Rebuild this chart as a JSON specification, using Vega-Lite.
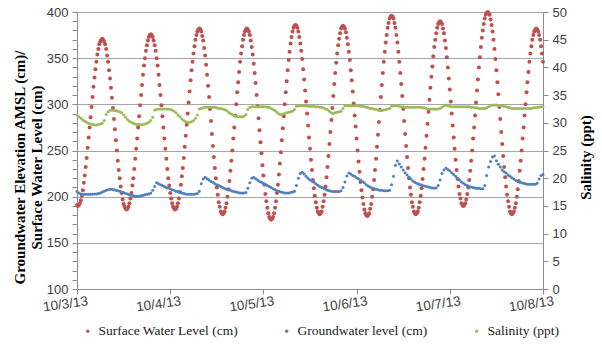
{
"$schema":"https://vega.github.io/schema/vega-lite/v6.json",
"width":466,"height":277,
"autosize":"none",
"padding":{"left":77,"top":12,"right":59,"bottom":57},
"background":"white",
"config":{"view":{"stroke":null},"axis":{"labelFont":"Liberation Sans","labelFontSize":13,"labelColor":"#404040","domainColor":"#8c8c8c","tickColor":"#8c8c8c","titleFont":"Liberation Serif","titleFontWeight":"bold","titleFontSize":15,"titleColor":"#000000"}},
"datasets":{
"sw":[{"t":0,"v":191},{"t":0.25,"v":190},{"t":0.5,"v":191},{"t":0.75,"v":193},{"t":1,"v":196},{"t":1.25,"v":201},{"t":1.5,"v":207},{"t":1.75,"v":215},{"t":2,"v":223},{"t":2.25,"v":232},{"t":2.5,"v":242},{"t":2.75,"v":253},{"t":3,"v":264},{"t":3.25,"v":275},{"t":3.5,"v":286},{"t":3.75,"v":297},{"t":4,"v":308},{"t":4.25,"v":319},{"t":4.5,"v":329},{"t":4.75,"v":338},{"t":5,"v":346},{"t":5.25,"v":354},{"t":5.5,"v":360},{"t":5.75,"v":365},{"t":6,"v":368},{"t":6.25,"v":370},{"t":6.5,"v":371},{"t":6.75,"v":370},{"t":7,"v":368},{"t":7.25,"v":365},{"t":7.5,"v":360},{"t":7.75,"v":353},{"t":8,"v":346},{"t":8.25,"v":337},{"t":8.5,"v":328},{"t":8.75,"v":318},{"t":9,"v":307},{"t":9.25,"v":296},{"t":9.5,"v":284},{"t":9.75,"v":273},{"t":10,"v":261},{"t":10.25,"v":250},{"t":10.5,"v":239},{"t":10.75,"v":229},{"t":11,"v":220},{"t":11.25,"v":211},{"t":11.5,"v":204},{"t":11.75,"v":197},{"t":12,"v":192},{"t":12.25,"v":189},{"t":12.5,"v":187},{"t":12.75,"v":186},{"t":13,"v":187},{"t":13.25,"v":189},{"t":13.5,"v":193},{"t":13.75,"v":198},{"t":14,"v":204},{"t":14.25,"v":212},{"t":14.5,"v":220},{"t":14.75,"v":230},{"t":15,"v":241},{"t":15.25,"v":252},{"t":15.5,"v":263},{"t":15.75,"v":275},{"t":16,"v":287},{"t":16.25,"v":299},{"t":16.5,"v":310},{"t":16.75,"v":321},{"t":17,"v":332},{"t":17.25,"v":342},{"t":17.5,"v":350},{"t":17.75,"v":358},{"t":18,"v":364},{"t":18.25,"v":369},{"t":18.5,"v":373},{"t":18.75,"v":375},{"t":19,"v":376},{"t":19.25,"v":375},{"t":19.5,"v":373},{"t":19.75,"v":369},{"t":20,"v":364},{"t":20.25,"v":358},{"t":20.5,"v":350},{"t":20.75,"v":342},{"t":21,"v":332},{"t":21.25,"v":321},{"t":21.5,"v":310},{"t":21.75,"v":299},{"t":22,"v":287},{"t":22.25,"v":275},{"t":22.5,"v":263},{"t":22.75,"v":252},{"t":23,"v":241},{"t":23.25,"v":230},{"t":23.5,"v":220},{"t":23.75,"v":212},{"t":24,"v":204},{"t":24.25,"v":198},{"t":24.5,"v":193},{"t":24.75,"v":189},{"t":25,"v":187},{"t":25.25,"v":186},{"t":25.5,"v":187},{"t":25.75,"v":189},{"t":26,"v":193},{"t":26.25,"v":198},{"t":26.5,"v":205},{"t":26.75,"v":213},{"t":27,"v":222},{"t":27.25,"v":231},{"t":27.5,"v":242},{"t":27.75,"v":254},{"t":28,"v":266},{"t":28.25,"v":278},{"t":28.5,"v":290},{"t":28.75,"v":302},{"t":29,"v":314},{"t":29.25,"v":326},{"t":29.5,"v":337},{"t":29.75,"v":346},{"t":30,"v":355},{"t":30.25,"v":363},{"t":30.5,"v":370},{"t":30.75,"v":375},{"t":31,"v":379},{"t":31.25,"v":381},{"t":31.5,"v":382},{"t":31.75,"v":381},{"t":32,"v":379},{"t":32.25,"v":374},{"t":32.5,"v":369},{"t":32.75,"v":361},{"t":33,"v":353},{"t":33.25,"v":343},{"t":33.5,"v":332},{"t":33.75,"v":320},{"t":34,"v":308},{"t":34.25,"v":295},{"t":34.5,"v":282},{"t":34.75,"v":268},{"t":35,"v":255},{"t":35.25,"v":243},{"t":35.5,"v":231},{"t":35.75,"v":220},{"t":36,"v":210},{"t":36.25,"v":202},{"t":36.5,"v":194},{"t":36.75,"v":189},{"t":37,"v":184},{"t":37.25,"v":182},{"t":37.5,"v":181},{"t":37.75,"v":182},{"t":38,"v":184},{"t":38.25,"v":188},{"t":38.5,"v":193},{"t":38.75,"v":200},{"t":39,"v":208},{"t":39.25,"v":217},{"t":39.5,"v":228},{"t":39.75,"v":239},{"t":40,"v":250},{"t":40.25,"v":263},{"t":40.5,"v":275},{"t":40.75,"v":288},{"t":41,"v":300},{"t":41.25,"v":313},{"t":41.5,"v":324},{"t":41.75,"v":335},{"t":42,"v":346},{"t":42.25,"v":355},{"t":42.5,"v":363},{"t":42.75,"v":370},{"t":43,"v":375},{"t":43.25,"v":379},{"t":43.5,"v":381},{"t":43.75,"v":382},{"t":44,"v":381},{"t":44.25,"v":379},{"t":44.5,"v":375},{"t":44.75,"v":369},{"t":45,"v":362},{"t":45.25,"v":354},{"t":45.5,"v":344},{"t":45.75,"v":334},{"t":46,"v":323},{"t":46.25,"v":310},{"t":46.5,"v":298},{"t":46.75,"v":285},{"t":47,"v":272},{"t":47.25,"v":259},{"t":47.5,"v":247},{"t":47.75,"v":234},{"t":48,"v":223},{"t":48.25,"v":213},{"t":48.5,"v":203},{"t":48.75,"v":195},{"t":49,"v":188},{"t":49.25,"v":182},{"t":49.5,"v":178},{"t":49.75,"v":176},{"t":50,"v":175},{"t":50.25,"v":176},{"t":50.5,"v":178},{"t":50.75,"v":182},{"t":51,"v":188},{"t":51.25,"v":195},{"t":51.5,"v":204},{"t":51.75,"v":213},{"t":52,"v":224},{"t":52.25,"v":236},{"t":52.5,"v":248},{"t":52.75,"v":261},{"t":53,"v":274},{"t":53.25,"v":287},{"t":53.5,"v":300},{"t":53.75,"v":313},{"t":54,"v":325},{"t":54.25,"v":337},{"t":54.5,"v":348},{"t":54.75,"v":357},{"t":55,"v":366},{"t":55.25,"v":373},{"t":55.5,"v":379},{"t":55.75,"v":383},{"t":56,"v":385},{"t":56.25,"v":386},{"t":56.5,"v":385},{"t":56.75,"v":383},{"t":57,"v":379},{"t":57.25,"v":373},{"t":57.5,"v":366},{"t":57.75,"v":358},{"t":58,"v":349},{"t":58.25,"v":338},{"t":58.5,"v":327},{"t":58.75,"v":315},{"t":59,"v":303},{"t":59.25,"v":290},{"t":59.5,"v":277},{"t":59.75,"v":264},{"t":60,"v":252},{"t":60.25,"v":240},{"t":60.5,"v":229},{"t":60.75,"v":218},{"t":61,"v":209},{"t":61.25,"v":201},{"t":61.5,"v":194},{"t":61.75,"v":188},{"t":62,"v":184},{"t":62.25,"v":182},{"t":62.5,"v":181},{"t":62.75,"v":182},{"t":63,"v":184},{"t":63.25,"v":189},{"t":63.5,"v":195},{"t":63.75,"v":202},{"t":64,"v":211},{"t":64.25,"v":221},{"t":64.5,"v":232},{"t":64.75,"v":244},{"t":65,"v":257},{"t":65.25,"v":270},{"t":65.5,"v":283},{"t":65.75,"v":296},{"t":66,"v":309},{"t":66.25,"v":322},{"t":66.5,"v":334},{"t":66.75,"v":345},{"t":67,"v":355},{"t":67.25,"v":364},{"t":67.5,"v":371},{"t":67.75,"v":377},{"t":68,"v":382},{"t":68.25,"v":384},{"t":68.5,"v":385},{"t":68.75,"v":384},{"t":69,"v":382},{"t":69.25,"v":378},{"t":69.5,"v":372},{"t":69.75,"v":365},{"t":70,"v":357},{"t":70.25,"v":348},{"t":70.5,"v":337},{"t":70.75,"v":326},{"t":71,"v":314},{"t":71.25,"v":301},{"t":71.5,"v":288},{"t":71.75,"v":276},{"t":72,"v":263},{"t":72.25,"v":250},{"t":72.5,"v":238},{"t":72.75,"v":227},{"t":73,"v":216},{"t":73.25,"v":207},{"t":73.5,"v":199},{"t":73.75,"v":192},{"t":74,"v":186},{"t":74.25,"v":182},{"t":74.5,"v":180},{"t":74.75,"v":179},{"t":75,"v":180},{"t":75.25,"v":182},{"t":75.5,"v":187},{"t":75.75,"v":192},{"t":76,"v":200},{"t":76.25,"v":208},{"t":76.5,"v":218},{"t":76.75,"v":229},{"t":77,"v":241},{"t":77.25,"v":254},{"t":77.5,"v":267},{"t":77.75,"v":281},{"t":78,"v":294},{"t":78.25,"v":308},{"t":78.5,"v":321},{"t":78.75,"v":334},{"t":79,"v":346},{"t":79.25,"v":357},{"t":79.5,"v":367},{"t":79.75,"v":375},{"t":80,"v":383},{"t":80.25,"v":388},{"t":80.5,"v":393},{"t":80.75,"v":395},{"t":81,"v":396},{"t":81.25,"v":395},{"t":81.5,"v":393},{"t":81.75,"v":388},{"t":82,"v":383},{"t":82.25,"v":375},{"t":82.5,"v":367},{"t":82.75,"v":357},{"t":83,"v":346},{"t":83.25,"v":334},{"t":83.5,"v":322},{"t":83.75,"v":309},{"t":84,"v":295},{"t":84.25,"v":282},{"t":84.5,"v":268},{"t":84.75,"v":255},{"t":85,"v":243},{"t":85.25,"v":231},{"t":85.5,"v":220},{"t":85.75,"v":210},{"t":86,"v":202},{"t":86.25,"v":194},{"t":86.5,"v":189},{"t":86.75,"v":184},{"t":87,"v":182},{"t":87.25,"v":181},{"t":87.5,"v":182},{"t":87.75,"v":184},{"t":88,"v":188},{"t":88.25,"v":194},{"t":88.5,"v":201},{"t":88.75,"v":209},{"t":89,"v":219},{"t":89.25,"v":230},{"t":89.5,"v":241},{"t":89.75,"v":253},{"t":90,"v":266},{"t":90.25,"v":279},{"t":90.5,"v":292},{"t":90.75,"v":305},{"t":91,"v":318},{"t":91.25,"v":330},{"t":91.5,"v":341},{"t":91.75,"v":352},{"t":92,"v":362},{"t":92.25,"v":370},{"t":92.5,"v":377},{"t":92.75,"v":383},{"t":93,"v":387},{"t":93.25,"v":389},{"t":93.5,"v":390},{"t":93.75,"v":389},{"t":94,"v":387},{"t":94.25,"v":382},{"t":94.5,"v":377},{"t":94.75,"v":369},{"t":95,"v":361},{"t":95.25,"v":351},{"t":95.5,"v":340},{"t":95.75,"v":328},{"t":96,"v":316},{"t":96.25,"v":303},{"t":96.5,"v":290},{"t":96.75,"v":277},{"t":97,"v":264},{"t":97.25,"v":252},{"t":97.5,"v":240},{"t":97.75,"v":229},{"t":98,"v":219},{"t":98.25,"v":211},{"t":98.5,"v":203},{"t":98.75,"v":198},{"t":99,"v":193},{"t":99.25,"v":191},{"t":99.5,"v":190},{"t":99.75,"v":191},{"t":100,"v":193},{"t":100.25,"v":197},{"t":100.5,"v":203},{"t":100.75,"v":210},{"t":101,"v":218},{"t":101.25,"v":228},{"t":101.5,"v":239},{"t":101.75,"v":250},{"t":102,"v":263},{"t":102.25,"v":275},{"t":102.5,"v":288},{"t":102.75,"v":302},{"t":103,"v":315},{"t":103.25,"v":327},{"t":103.5,"v":340},{"t":103.75,"v":351},{"t":104,"v":362},{"t":104.25,"v":372},{"t":104.5,"v":380},{"t":104.75,"v":387},{"t":105,"v":393},{"t":105.25,"v":397},{"t":105.5,"v":399},{"t":105.75,"v":400},{"t":106,"v":399},{"t":106.25,"v":397},{"t":106.5,"v":392},{"t":106.75,"v":386},{"t":107,"v":379},{"t":107.25,"v":370},{"t":107.5,"v":360},{"t":107.75,"v":349},{"t":108,"v":337},{"t":108.25,"v":324},{"t":108.5,"v":311},{"t":108.75,"v":297},{"t":109,"v":284},{"t":109.25,"v":270},{"t":109.5,"v":257},{"t":109.75,"v":244},{"t":110,"v":232},{"t":110.25,"v":221},{"t":110.5,"v":211},{"t":110.75,"v":202},{"t":111,"v":195},{"t":111.25,"v":189},{"t":111.5,"v":184},{"t":111.75,"v":182},{"t":112,"v":181},{"t":112.25,"v":182},{"t":112.5,"v":184},{"t":112.75,"v":188},{"t":113,"v":193},{"t":113.25,"v":200},{"t":113.5,"v":208},{"t":113.75,"v":217},{"t":114,"v":228},{"t":114.25,"v":239},{"t":114.5,"v":250},{"t":114.75,"v":263},{"t":115,"v":275},{"t":115.25,"v":288},{"t":115.5,"v":300},{"t":115.75,"v":313},{"t":116,"v":324},{"t":116.25,"v":335},{"t":116.5,"v":346},{"t":116.75,"v":355},{"t":117,"v":363},{"t":117.25,"v":370},{"t":117.5,"v":375},{"t":117.75,"v":379},{"t":118,"v":381},{"t":118.25,"v":382},{"t":118.5,"v":381},{"t":118.75,"v":379},{"t":119,"v":375},{"t":119.25,"v":370},{"t":119.5,"v":363},{"t":119.75,"v":355},{"t":120,"v":346}],
"gw":[{"t":0,"v":205.5,"s":31.4},{"t":0.5,"v":204,"s":31.1},{"t":1,"v":203,"s":30.8},{"t":1.5,"v":202.5,"s":30.5},{"t":2,"v":202.5,"s":30.3},{"t":2.5,"v":202.5,"s":30.1},{"t":3,"v":202.5,"s":29.9},{"t":3.5,"v":202.5,"s":29.8},{"t":4,"v":202.5,"s":29.7},{"t":4.5,"v":203,"s":29.6},{"t":5,"v":203,"s":29.6},{"t":5.5,"v":203.5,"s":29.7},{"t":6,"v":204,"s":29.8},{"t":6.5,"v":205,"s":29.9},{"t":7,"v":206,"s":30.4},{"t":7.5,"v":207,"s":31.5},{"t":8,"v":207.5,"s":32.0},{"t":8.5,"v":208,"s":32.2},{"t":9,"v":208,"s":32.3},{"t":9.5,"v":207.5,"s":32.2},{"t":10,"v":207,"s":32.2},{"t":10.5,"v":206.5,"s":32.1},{"t":11,"v":206,"s":32.0},{"t":11.5,"v":205,"s":31.8},{"t":12,"v":204.5,"s":31.4},{"t":12.5,"v":203.5,"s":31.0},{"t":13,"v":203,"s":30.6},{"t":13.5,"v":202,"s":30.3},{"t":14,"v":201.5,"s":30.1},{"t":14.5,"v":201,"s":29.9},{"t":15,"v":200.5,"s":29.8},{"t":15.5,"v":200.5,"s":29.7},{"t":16,"v":200.5,"s":29.7},{"t":16.5,"v":201,"s":29.7},{"t":17,"v":201.5,"s":29.7},{"t":17.5,"v":202,"s":29.8},{"t":18,"v":202.5,"s":29.9},{"t":18.5,"v":203,"s":30.1},{"t":19,"v":204,"s":30.4},{"t":19.5,"v":207,"s":31.0},{"t":20,"v":211,"s":32.3},{"t":20.5,"v":215,"s":32.4},{"t":21,"v":214,"s":32.5},{"t":21.5,"v":213,"s":32.5},{"t":22,"v":212,"s":32.5},{"t":22.5,"v":211,"s":32.5},{"t":23,"v":210,"s":32.5},{"t":23.5,"v":209.5,"s":32.5},{"t":24,"v":208.5,"s":32.4},{"t":24.5,"v":207.5,"s":32.3},{"t":25,"v":207,"s":32.1},{"t":25.5,"v":206,"s":31.8},{"t":26,"v":205.5,"s":31.4},{"t":26.5,"v":204.5,"s":31.1},{"t":27,"v":204,"s":30.7},{"t":27.5,"v":203.5,"s":30.4},{"t":28,"v":203,"s":30.2},{"t":28.5,"v":202.5,"s":30.1},{"t":29,"v":202.5,"s":30.1},{"t":29.5,"v":202.5,"s":30.2},{"t":30,"v":202.5,"s":30.4},{"t":30.5,"v":203,"s":30.8},{"t":31,"v":203.5,"s":31.4},{"t":31.5,"v":206,"s":32.5},{"t":32,"v":214,"s":32.6},{"t":32.5,"v":219,"s":32.7},{"t":33,"v":221,"s":32.8},{"t":33.5,"v":219.5,"s":32.8},{"t":34,"v":218,"s":32.8},{"t":34.5,"v":216.5,"s":32.8},{"t":35,"v":215.5,"s":32.8},{"t":35.5,"v":214,"s":32.8},{"t":36,"v":213,"s":32.7},{"t":36.5,"v":212,"s":32.6},{"t":37,"v":211,"s":32.6},{"t":37.5,"v":210,"s":32.5},{"t":38,"v":209,"s":32.4},{"t":38.5,"v":208,"s":32.2},{"t":39,"v":207.5,"s":31.9},{"t":39.5,"v":207,"s":31.7},{"t":40,"v":206,"s":31.5},{"t":40.5,"v":205.5,"s":31.3},{"t":41,"v":205,"s":31.2},{"t":41.5,"v":204.5,"s":31.1},{"t":42,"v":204,"s":31.1},{"t":42.5,"v":204,"s":31.1},{"t":43,"v":204,"s":31.2},{"t":43.5,"v":204.5,"s":31.5},{"t":44,"v":209,"s":32.4},{"t":44.5,"v":215,"s":32.8},{"t":45,"v":220,"s":32.9},{"t":45.5,"v":221,"s":32.9},{"t":46,"v":219.5,"s":32.9},{"t":46.5,"v":218,"s":32.9},{"t":47,"v":216.5,"s":32.9},{"t":47.5,"v":215.5,"s":32.9},{"t":48,"v":214.5,"s":32.9},{"t":48.5,"v":213.5,"s":32.9},{"t":49,"v":212,"s":32.8},{"t":49.5,"v":211,"s":32.8},{"t":50,"v":210,"s":32.6},{"t":50.5,"v":208.5,"s":32.4},{"t":51,"v":207.5,"s":32.2},{"t":51.5,"v":206.5,"s":31.9},{"t":52,"v":206,"s":31.6},{"t":52.5,"v":205,"s":31.5},{"t":53,"v":204.5,"s":31.6},{"t":53.5,"v":204,"s":31.7},{"t":54,"v":204,"s":31.8},{"t":54.5,"v":204,"s":31.9},{"t":55,"v":204.5,"s":32.0},{"t":55.5,"v":205,"s":32.1},{"t":56,"v":206,"s":32.4},{"t":56.5,"v":212,"s":33.0},{"t":57,"v":220,"s":33.1},{"t":57.5,"v":225,"s":33.1},{"t":58,"v":226.5,"s":33.1},{"t":58.5,"v":224.5,"s":33.1},{"t":59,"v":222,"s":33.1},{"t":59.5,"v":220,"s":33.0},{"t":60,"v":218,"s":33.0},{"t":60.5,"v":217,"s":33.0},{"t":61,"v":215.5,"s":33.0},{"t":61.5,"v":214,"s":32.9},{"t":62,"v":212.5,"s":32.9},{"t":62.5,"v":211,"s":32.8},{"t":63,"v":210,"s":32.8},{"t":63.5,"v":209,"s":32.7},{"t":64,"v":208,"s":32.5},{"t":64.5,"v":207,"s":32.4},{"t":65,"v":206.5,"s":32.1},{"t":65.5,"v":206,"s":31.8},{"t":66,"v":205.5,"s":31.7},{"t":66.5,"v":205.5,"s":31.8},{"t":67,"v":205.5,"s":31.9},{"t":67.5,"v":205.5,"s":32.0},{"t":68,"v":206.5,"s":32.1},{"t":68.5,"v":210,"s":32.6},{"t":69,"v":216,"s":33.1},{"t":69.5,"v":222.5,"s":33.1},{"t":70,"v":225.5,"s":33.1},{"t":70.5,"v":224.5,"s":33.1},{"t":71,"v":223,"s":33.1},{"t":71.5,"v":222,"s":33.1},{"t":72,"v":220.5,"s":33.1},{"t":72.5,"v":219.5,"s":33.1},{"t":73,"v":218,"s":33.0},{"t":73.5,"v":216.5,"s":33.0},{"t":74,"v":215,"s":32.9},{"t":74.5,"v":213,"s":32.8},{"t":75,"v":211.5,"s":32.7},{"t":75.5,"v":210.5,"s":32.6},{"t":76,"v":209.5,"s":32.6},{"t":76.5,"v":208.5,"s":32.5},{"t":77,"v":208,"s":32.4},{"t":77.5,"v":207.5,"s":32.3},{"t":78,"v":207,"s":32.2},{"t":78.5,"v":207,"s":32.2},{"t":79,"v":206.5,"s":32.3},{"t":79.5,"v":206.5,"s":32.4},{"t":80,"v":206.5,"s":32.5},{"t":80.5,"v":207,"s":32.6},{"t":81,"v":213,"s":33.0},{"t":81.5,"v":222,"s":33.1},{"t":82,"v":234,"s":33.1},{"t":82.5,"v":238.5,"s":33.1},{"t":83,"v":235.5,"s":33.0},{"t":83.5,"v":232,"s":32.9},{"t":84,"v":229,"s":32.9},{"t":84.5,"v":226,"s":32.8},{"t":85,"v":223.5,"s":32.8},{"t":85.5,"v":221,"s":32.8},{"t":86,"v":219,"s":32.8},{"t":86.5,"v":217,"s":32.8},{"t":87,"v":215.5,"s":32.8},{"t":87.5,"v":214.5,"s":32.8},{"t":88,"v":213.5,"s":32.8},{"t":88.5,"v":213,"s":32.8},{"t":89,"v":212,"s":32.7},{"t":89.5,"v":211.5,"s":32.7},{"t":90,"v":211,"s":32.6},{"t":90.5,"v":210.5,"s":32.5},{"t":91,"v":210,"s":32.5},{"t":91.5,"v":209.5,"s":32.5},{"t":92,"v":209.5,"s":32.5},{"t":92.5,"v":209.5,"s":32.5},{"t":93,"v":212,"s":32.5},{"t":93.5,"v":218,"s":32.6},{"t":94,"v":225,"s":32.8},{"t":94.5,"v":229,"s":33.1},{"t":95,"v":231,"s":33.2},{"t":95.5,"v":229.5,"s":33.1},{"t":96,"v":228,"s":33.0},{"t":96.5,"v":226,"s":32.9},{"t":97,"v":224,"s":32.9},{"t":97.5,"v":222,"s":32.9},{"t":98,"v":220,"s":32.9},{"t":98.5,"v":218,"s":32.9},{"t":99,"v":216,"s":32.9},{"t":99.5,"v":214.5,"s":32.9},{"t":100,"v":213,"s":32.9},{"t":100.5,"v":212,"s":32.9},{"t":101,"v":211,"s":32.9},{"t":101.5,"v":210.5,"s":32.8},{"t":102,"v":210,"s":32.8},{"t":102.5,"v":209.5,"s":32.7},{"t":103,"v":209,"s":32.7},{"t":103.5,"v":209,"s":32.6},{"t":104,"v":208.5,"s":32.6},{"t":104.5,"v":208.5,"s":32.6},{"t":105,"v":212,"s":32.6},{"t":105.5,"v":223,"s":32.7},{"t":106,"v":232,"s":32.9},{"t":106.5,"v":238,"s":33.1},{"t":107,"v":243,"s":33.2},{"t":107.5,"v":244,"s":33.2},{"t":108,"v":239,"s":33.2},{"t":108.5,"v":235,"s":33.1},{"t":109,"v":232,"s":33.1},{"t":109.5,"v":229,"s":33.1},{"t":110,"v":227,"s":33.0},{"t":110.5,"v":225.5,"s":32.9},{"t":111,"v":223.5,"s":32.8},{"t":111.5,"v":222,"s":32.7},{"t":112,"v":220.5,"s":32.6},{"t":112.5,"v":219,"s":32.6},{"t":113,"v":217.5,"s":32.6},{"t":113.5,"v":216.5,"s":32.6},{"t":114,"v":215.5,"s":32.6},{"t":114.5,"v":215,"s":32.6},{"t":115,"v":214.5,"s":32.6},{"t":115.5,"v":214,"s":32.6},{"t":116,"v":213.5,"s":32.6},{"t":116.5,"v":213.5,"s":32.6},{"t":117,"v":213.5,"s":32.6},{"t":117.5,"v":213.5,"s":32.7},{"t":118,"v":213.5,"s":32.7},{"t":118.5,"v":214.5,"s":32.8},{"t":119,"v":219,"s":32.8},{"t":119.5,"v":223,"s":32.9},{"t":120,"v":224,"s":32.9}]
},
"encoding":{
"x":{"field":"t","type":"quantitative","scale":{"domain":[0,120],"nice":false,"zero":false},
"axis":{"values":[0,24,48,72,96,120],"labelExpr":"'10/' + (3 + round(datum.value/24)) + '/13'","grid":false,"title":null,"tickSize":5,"labelAngle":-8,"labelAlign":"center","labelBaseline":"top","labelPadding":3,"labelOffset":-13,"labelFontSize":13.5,"labelFlush":false,"labelOverlap":false}}
},
"layer":[
{"encoding":{"y":{"field":"v","type":"quantitative","scale":{"domain":[100,400],"nice":false,"zero":false},
"axis":{"values":[100,110,120,130,140,150,160,170,180,190,200,210,220,230,240,250,260,270,280,290,300,310,320,330,340,350,360,370,380,390,400],"labelExpr":"datum.value % 50 === 0 ? datum.label : ''","grid":true,"gridColor":"#a6a6a6","gridOpacity":{"condition":{"test":"datum.value % 50 === 0","value":1},"value":0},"tickSize":5,"labelPadding":4,"labelFlush":false,"labelOverlap":false,"title":["Groundwater Elevation  AMSL (cm)/","Surface Water Level (cm)"],"titlePadding":2,"titleY":155}}},
"layer":[
{"data":{"name":"sw"},"mark":{"type":"circle","size":16,"opacity":1},
"encoding":{"color":{"datum":"Surface Water Level (cm)","type":"nominal","scale":{"domain":["Surface Water Level (cm)","Groundwater level (cm)","Salinity (ppt)"],"range":["#c0504d","#4f81bd","#9bbb59"]},
"legend":{"orient":"none","legendX":4,"legendY":312,"direction":"horizontal","title":null,"symbolType":"circle","symbolSize":12,"labelFont":"Liberation Serif","labelFontSize":13.5,"labelColor":"#222222","columnPadding":42,"labelOffset":4,"padding":0}}}},
{"data":{"name":"gw"},"mark":{"type":"circle","size":9,"opacity":1},
"encoding":{"color":{"datum":"Groundwater level (cm)","type":"nominal"}}}
]},
{"data":{"name":"gw"},"mark":{"type":"circle","size":9,"opacity":1},
"encoding":{"y":{"field":"s","type":"quantitative","scale":{"domain":[0,50],"nice":false,"zero":true},
"axis":{"orient":"right","values":[0,5,10,15,20,25,30,35,40,45,50],"grid":false,"tickSize":5,"labelPadding":4,"labelFlush":false,"labelOverlap":false,"title":"Salinity (ppt)","titleAngle":-90,"titleX":42,"titleY":145,"titleAlign":"center","titleBaseline":"middle"}},
"color":{"datum":"Salinity (ppt)","type":"nominal"}}}
],
"resolve":{"scale":{"y":"independent"}}
}
